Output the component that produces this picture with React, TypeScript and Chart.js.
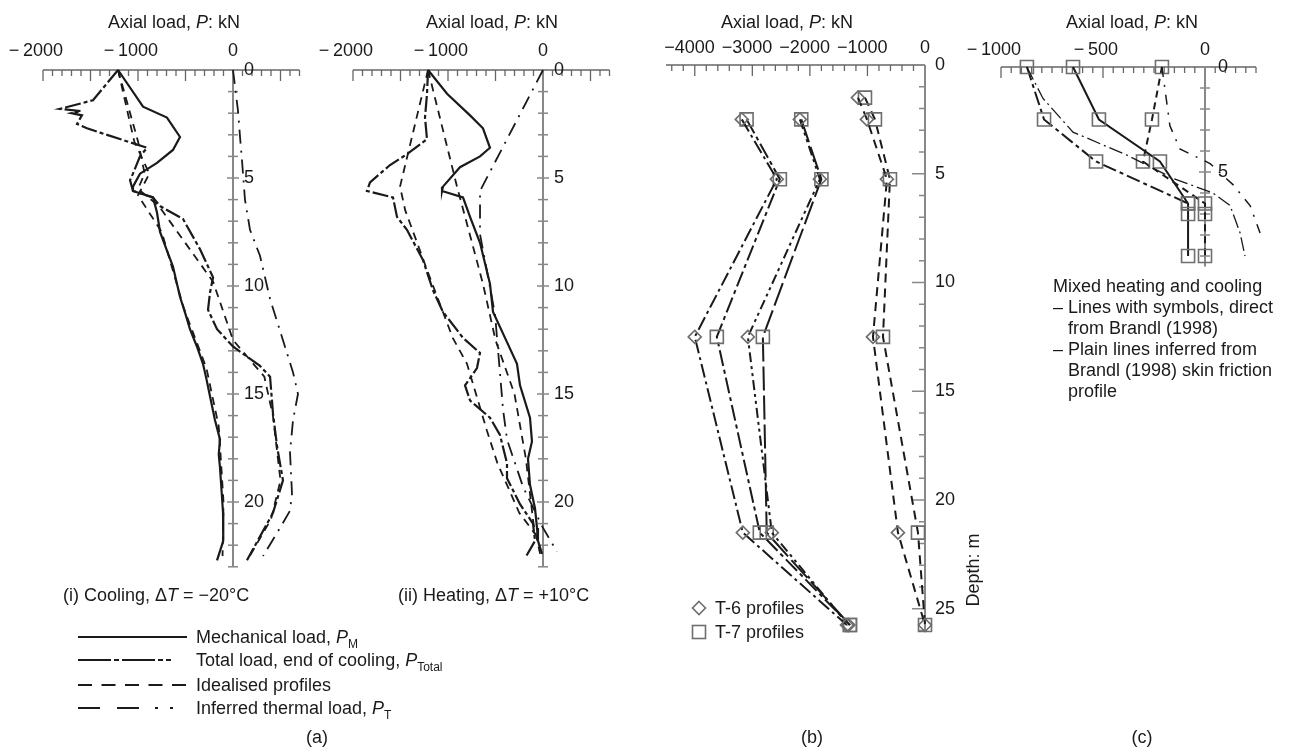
import React, { useEffect, useRef } from 'react';
import { Chart, registerables } from 'chart.js';
Chart.register(...registerables);

type Pt = [number, number]; // [axial load kN, depth m]

// ---------- (a)(i) Cooling ----------
const coolMech: Pt[] = [[-1210,0],[-947,1.7],[-695,2.2],[-558,3.1],[-632,3.7],[-800,4.3],[-979,4.8],[-1053,5.4],[-1053,5.6],[-842,5.9],[-800,6.6],[-768,7.5],[-700,8.3],[-632,9.1],[-558,10.5],[-500,11.3],[-453,12],[-380,12.8],[-316,13.6],[-280,14.3],[-242,15.1],[-190,16.2],[-137,17.1],[-150,17.8],[-137,18.4],[-120,19.5],[-105,20.5],[-100,21.2],[-105,21.8],[-168,22.7]];
const coolTotal: Pt[] = [[-1210,0],[-1474,1.4],[-1821,1.8],[-1600,1.9],[-1700,2.0],[-1590,2.1],[-1642,2.5],[-1537,2.7],[-1400,2.9],[-905,3.6],[-979,4.0],[-1053,4.8],[-1084,5.1],[-1053,5.6],[-842,5.9],[-768,6.3],[-526,6.9],[-347,8.3],[-210,9.6],[-242,10.3],[-263,11.1],[-168,12],[0,12.8],[284,13.7],[390,14.2],[421,15.9],[463,17.4],[526,19],[421,20.5],[147,22.7]];
const coolThermal: Pt[] = [[0,0],[53,1.9],[74,3.1],[95,4.2],[126,6],[179,7.4],[284,8.6],[390,10.6],[568,13.1],[632,14],[684,15],[632,16.2],[600,17.7],[621,19.6],[600,20.4],[495,21.2],[316,22.5]];
const coolIdealM: Pt[] = [[-1210,0],[-1040,3.3],[-880,4.8],[-1000,5.8],[-750,7.5],[-520,11],[-280,13.8],[-150,16.5],[-100,20],[-110,22.5]];
const coolIdealT: Pt[] = [[-1210,0],[-1000,3.3],[-930,4.8],[-1000,5.5],[-780,6.3],[-210,9.8],[0,12.5],[330,14.2],[420,16],[500,19],[400,20.8],[150,22.7]];

// ---------- (a)(ii) Heating ----------
const heatMech: Pt[] = [[-1210,0],[-1010,1.1],[-768,2.1],[-632,2.7],[-558,3.6],[-663,4.0],[-874,4.5],[-1053,5.4],[-1063,5.6],[-842,5.9],[-768,6.8],[-663,8.0],[-558,9.9],[-526,11.2],[-379,12.6],[-274,13.6],[-242,14.6],[-137,16.1],[-116,17.2],[-158,18],[-137,19.2],[-84,20.3],[-63,21.2],[-53,21.8],[-10,22.4]];
const heatTotal: Pt[] = [[-1210,0],[-1221,1.1],[-1242,2.2],[-1221,3.2],[-1432,3.9],[-1610,4.4],[-1821,5.2],[-1853,5.6],[-1579,5.9],[-1537,6.8],[-1432,7.4],[-1263,8.8],[-1158,10.2],[-1053,11.2],[-842,12.4],[-663,13.1],[-695,13.8],[-821,14.6],[-768,15.3],[-558,16.1],[-453,16.9],[-379,18.2],[-379,18.9],[-242,20.1],[-105,21.0],[-84,21.8],[-189,22.6]];
const heatThermal: Pt[] = [[0,0],[-663,5.6],[-663,7.6],[-505,11.3],[-421,15.7],[-379,17.1],[-210,19.3],[0,21.2],[147,22.3]];
const heatIdealM: Pt[] = [[-1210,0],[-905,5.4],[-632,9.9],[-500,12.5],[-300,15],[-180,18],[-100,21],[-30,22.4]];
const heatIdealT: Pt[] = [[-1210,0],[-1505,5.4],[-1450,6.5],[-1200,9.5],[-950,12.4],[-800,13.6],[-590,16.7],[-480,18.2],[-250,20.5],[-80,21.5]];

// ---------- (b) T-6 / T-7 profiles ----------
const bT6a: Pt[] = [[-3183,2.5],[-2574,5.25],[-4000,12.5],[-3165,21.5],[-1357,25.75]];
const bT7a: Pt[] = [[-3100,2.5],[-2522,5.25],[-3617,12.5],[-2870,21.5],[-1304,25.75]];
const bT6b: Pt[] = [[-2174,2.5],[-1826,5.25],[-3078,12.5],[-2661,21.5],[-1330,25.75]];
const bT7b: Pt[] = [[-2150,2.5],[-1800,5.25],[-2817,12.5],[-2750,21.5],[-1304,25.75]];
const bT6c: Pt[] = [[-1165,1.5],[-1009,2.5],[-661,5.25],[-904,12.5],[-470,21.5],[0,25.75]];
const bT7c: Pt[] = [[-1043,1.5],[-870,2.5],[-609,5.25],[-730,12.5],[-122,21.5],[0,25.75]];

// ---------- (c) Mixed heating and cooling ----------
const cSymA: Pt[] = [[-647,0],[-520,2.5],[-221,4.5],[-83,6.5],[-83,7],[-83,9]];
const cSymB: Pt[] = [[-873,0],[-789,2.5],[-534,4.5],[-83,6.5]];
const cSymC: Pt[] = [[-211,0],[-260,2.5],[-304,4.5],[0,6.5],[0,7],[0,9]];
const cPlain1: Pt[] = [[-873,0],[-794,1.5],[-647,3.1],[-382,4.2],[-157,5.3],[39,6],[123,6.6],[172,7.9],[196,9]];
const cPlain2: Pt[] = [[-211,0],[-172,2.8],[-123,3.9],[25,4.6],[137,5.6],[221,6.6],[270,7.9],[294,9]];

// ---------- axis tick labels ----------
const aXLabels = [-2000, -1000, 0];
const aDepthLabels = [0, 5, 10, 15, 20];
const bXLabels = [-4000, -3000, -2000, -1000, 0];
const bDepthLabels = [0, 5, 10, 15, 20, 25];
const cXLabels = [-1000, -500, 0];
const cDepthLabels = [0, 5];

const FONT = '"Liberation Sans", Arial, Helvetica, sans-serif';
const INK = '#1a1a1a';

interface AxisSpec {
  xMin: number; xMax: number; xTickStart: number; xMinor: number; xMajor: number;
  xLabels: number[]; yMax: number; yLabels: number[]; yTickSide: 'both' | 'left';
  xLabelOffset: number; yLabelGap: number; minusSep: string;
}

function axesPlugin(spec: AxisSpec) {
  return {
    id: 'customAxes',
    beforeDatasetsDraw(chart: any) {
      const ctx = chart.ctx;
      const xs = chart.scales.x;
      const ys = chart.scales.y;
      const x0 = xs.getPixelForValue(0);
      const y0 = ys.getPixelForValue(0);
      ctx.save();
      ctx.strokeStyle = '#666';
      ctx.lineWidth = 1.5;
      ctx.beginPath();
      ctx.moveTo(xs.getPixelForValue(spec.xMin), y0);
      ctx.lineTo(xs.getPixelForValue(spec.xMax), y0);
      ctx.stroke();
      const n = Math.round((spec.xMax - spec.xTickStart) / spec.xMinor);
      for (let i = 0; i <= n; i++) {
        const v = spec.xTickStart + i * spec.xMinor;
        const major = Math.abs(v / spec.xMajor - Math.round(v / spec.xMajor)) < 1e-6;
        const px = xs.getPixelForValue(v);
        ctx.lineWidth = 1.3;
        ctx.beginPath();
        ctx.moveTo(px, y0);
        ctx.lineTo(px, y0 + (major ? 11 : 6));
        ctx.stroke();
      }
      const yEnd = ys.getPixelForValue(spec.yMax);
      ctx.strokeStyle = '#888';
      ctx.lineWidth = 2;
      ctx.beginPath();
      ctx.moveTo(x0, y0);
      ctx.lineTo(x0, yEnd);
      ctx.stroke();
      ctx.lineWidth = 1.5;
      for (let d = 1; d <= Math.floor(spec.yMax); d++) {
        const py = ys.getPixelForValue(d);
        const major = d % 5 === 0;
        ctx.beginPath();
        if (spec.yTickSide === 'both') {
          ctx.moveTo(x0 - (major ? 6 : 5), py);
          ctx.lineTo(x0 + (major ? 6 : 5), py);
        } else {
          ctx.moveTo(x0 - (major ? 13 : 6), py);
          ctx.lineTo(x0, py);
        }
        ctx.stroke();
      }
      ctx.fillStyle = INK;
      ctx.font = `18px ${FONT}`;
      ctx.textBaseline = 'alphabetic';
      ctx.textAlign = 'right';
      spec.xLabels.forEach((v) => {
        const digits = String(Math.abs(v));
        const w = ctx.measureText(digits).width;
        const txt = v < 0 ? '\u2212' + spec.minusSep + digits : digits;
        ctx.fillText(txt, xs.getPixelForValue(v) + w / 2, y0 - spec.xLabelOffset);
      });
      ctx.textAlign = 'left';
      ctx.textBaseline = 'middle';
      spec.yLabels.forEach((d) => {
        ctx.fillText(String(d), x0 + spec.yLabelGap, ys.getPixelForValue(d));
      });
      ctx.restore();
    },
  };
}

const toXY = (pts: Pt[]) => pts.map(([x, y]) => ({ x, y }));

function line(pts: Pt[], dash: number[], width = 2): any {
  return {
    data: toXY(pts), showLine: true, borderColor: INK, borderWidth: width, borderDash: dash,
    pointRadius: 0, clip: false, tension: 0, fill: false,
  };
}
function symLine(pts: Pt[], dash: number[], style: string, radius: number, width = 2): any {
  return {
    ...line(pts, dash, width), pointRadius: radius, pointStyle: style,
    pointBorderColor: '#6e6e6e', pointBackgroundColor: 'rgba(255,255,255,0)', pointBorderWidth: 1.6,
  };
}

const DASH_TOTAL = [16, 3, 4, 3];
const DASH_IDEAL = [8, 6];
const DASH_THERMAL = [14, 7, 2, 7];

interface PanelProps {
  datasets: any[]; spec: AxisSpec; px: { left: number; right: number; top: number; bottom: number };
}

function Panel({ datasets, spec, px }: PanelProps) {
  const ref = useRef<HTMLCanvasElement>(null);
  useEffect(() => {
    const chart = new Chart(ref.current as HTMLCanvasElement, {
      type: 'scatter',
      data: { datasets },
      options: {
        animation: false,
        responsive: false,
        events: [],
        layout: { padding: { left: px.left, top: px.top, right: 1293 - px.right, bottom: 749 - px.bottom } },
        plugins: { legend: { display: false }, tooltip: { enabled: false } },
        scales: {
          x: { type: 'linear', min: spec.xMin, max: spec.xMax, display: false },
          y: { type: 'linear', min: 0, max: spec.yMax, reverse: true, display: false },
        },
      },
      plugins: [axesPlugin(spec)],
    } as any);
    return () => chart.destroy();
  }, []);
  return <canvas ref={ref} width={1293} height={749} style={{ position: 'absolute', left: 0, top: 0, width: 1293, height: 749 }} />;
}

const txtBase: React.CSSProperties = {
  position: 'absolute', font: `18px ${FONT}`, lineHeight: '20px', whiteSpace: 'nowrap', color: INK,
};

function T({ x, y, center, children }: { x: number; y: number; center?: boolean; children: React.ReactNode }) {
  return (
    <div style={{ ...txtBase, left: x, top: y - 16, transform: center ? 'translateX(-50%)' : undefined }}>
      {children}
    </div>
  );
}
const Sub = ({ children }: { children: React.ReactNode }) => (
  <sub style={{ fontSize: 12, verticalAlign: -5, lineHeight: 0 }}>{children}</sub>
);
const AxisTitle = ({ x }: { x: number }) => (
  <T x={x} y={28} center>Axial load, <i>P</i>: kN</T>
);

export default function App() {
  const specA: AxisSpec = {
    xMin: -2000, xMax: 700, xTickStart: -2000, xMinor: 100, xMajor: 500,
    xLabels: aXLabels, yMax: 23, yLabels: aDepthLabels, yTickSide: 'both', xLabelOffset: 14, yLabelGap: 11,
    minusSep: '\u2009',
  };
  const coolSets = [
    line(coolIdealM, DASH_IDEAL, 1.8), line(coolIdealT, DASH_IDEAL, 1.8),
    line(coolThermal, DASH_THERMAL, 1.8), line(coolTotal, DASH_TOTAL, 2.2), line(coolMech, [], 2.2),
  ];
  const heatSets = [
    line(heatIdealM, DASH_IDEAL, 1.8), line(heatIdealT, DASH_IDEAL, 1.8),
    line(heatThermal, DASH_THERMAL, 1.8), line(heatTotal, DASH_TOTAL, 2.2), line(heatMech, [], 2.2),
  ];
  const bSets = [
    symLine(bT6a, [14, 4, 3, 4], 'rectRot', 6.5), symLine(bT7a, [16, 4, 4, 4], 'rect', 9.2),
    symLine(bT6b, [10, 4, 3, 4, 3, 4], 'rectRot', 6.5), symLine(bT7b, [24, 5], 'rect', 9.2),
    symLine(bT6c, [9, 6], 'rectRot', 6.5), symLine(bT7c, [9, 6], 'rect', 9.2),
  ];
  const cSets = [
    line(cPlain1, [14, 4, 2, 4], 1.3), line(cPlain2, [10, 8, 2, 8], 1.5),
    symLine(cSymA, [], 'rect', 9.2), symLine(cSymB, [14, 4, 4, 4], 'rect', 9.2), symLine(cSymC, [7, 5], 'rect', 9.2),
  ];
  const specB: AxisSpec = {
    xMin: -4500, xMax: 0, xTickStart: -4400, xMinor: 200, xMajor: 1000,
    xLabels: bXLabels, yMax: 26, yLabels: bDepthLabels, yTickSide: 'left', xLabelOffset: 12, yLabelGap: 10,
    minusSep: '',
  };
  const specC: AxisSpec = {
    xMin: -1000, xMax: 250, xTickStart: -1000, xMinor: 50, xMajor: 500,
    xLabels: cXLabels, yMax: 9.5, yLabels: cDepthLabels, yTickSide: 'both', xLabelOffset: 12, yLabelGap: 13,
    minusSep: '\u2009',
  };

  const legendRows = [
    { y: 637, dash: '', w: 2.2, label: <>Mechanical load, <i>P</i><Sub>M</Sub></> },
    { y: 660, dash: '33 3 5 3 33 3 5 3 5 20', w: 2.2, label: <>Total load, end of cooling, <i>P</i><Sub>Total</Sub></> },
    { y: 685, dash: '14 9.5', w: 2, label: <>Idealised profiles</> },
    { y: 708, dash: '22 17 22 16 3 12 3 20', w: 2, label: <>Inferred thermal load, <i>P</i><Sub>T</Sub></> },
  ];

  return (
    <div style={{ position: 'absolute', left: 0, top: 0, width: 1293, height: 749, background: '#fff', overflow: 'hidden' }}>
      <Panel datasets={coolSets} spec={specA} px={{ left: 43, right: 299.5, top: 70, bottom: 70 + 23 * 21.6 }} />
      <Panel datasets={heatSets} spec={specA} px={{ left: 353, right: 609.5, top: 70, bottom: 70 + 23 * 21.6 }} />
      <Panel datasets={bSets} spec={specB} px={{ left: 666, right: 925, top: 65, bottom: 65 + 26 * 21.75 }} />
      <Panel datasets={cSets} spec={specC} px={{ left: 1001, right: 1256, top: 67, bottom: 67 + 9.5 * 21 }} />

      <AxisTitle x={174} />
      <AxisTitle x={492} />
      <AxisTitle x={787} />
      <AxisTitle x={1132} />

      <T x={63} y={601}>(i) Cooling, Δ<i>T</i> = −20°C</T>
      <T x={398} y={601}>(ii) Heating, Δ<i>T</i> = +10°C</T>

      <svg width={1293} height={749} style={{ position: 'absolute', left: 0, top: 0 }}>
        {legendRows.map((r, i) => (
          <line key={i} x1={78} x2={187} y1={r.y} y2={r.y} stroke={INK} strokeWidth={r.w} strokeDasharray={r.dash || undefined} />
        ))}
        <polygon points="699,601.5 705.5,608 699,614.5 692.5,608" fill="none" stroke="#6e6e6e" strokeWidth={1.6} />
        <rect x={692.5} y={625.5} width={13} height={13} fill="none" stroke="#6e6e6e" strokeWidth={1.6} />
      </svg>
      {legendRows.map((r, i) => (
        <T key={i} x={196} y={r.y + 6}>{r.label}</T>
      ))}

      <T x={715} y={614}>T-6 profiles</T>
      <T x={715} y={638}>T-7 profiles</T>

      <div style={{ ...txtBase, left: 973, top: 570, transform: 'translate(-50%, -50%) rotate(-90deg)' }}>Depth: m</div>

      <T x={1053} y={292}>Mixed heating and cooling</T>
      <T x={1053} y={313}>–</T>
      <T x={1068} y={313}>Lines with symbols, direct</T>
      <T x={1068} y={334}>from Brandl (1998)</T>
      <T x={1053} y={355}>–</T>
      <T x={1068} y={355}>Plain lines inferred from</T>
      <T x={1068} y={376}>Brandl (1998) skin friction</T>
      <T x={1068} y={397}>profile</T>

      <T x={317} y={743} center>(a)</T>
      <T x={812} y={743} center>(b)</T>
      <T x={1142} y={743} center>(c)</T>
    </div>
  );
}
